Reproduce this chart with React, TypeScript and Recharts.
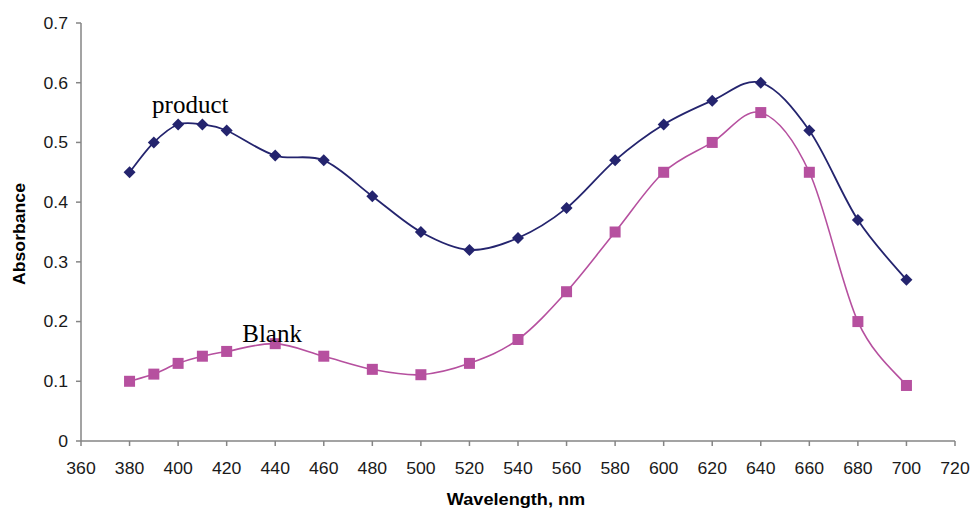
import React from 'react';
import { LineChart, Line, XAxis, YAxis, ReferenceDot, Label } from 'recharts';

const wavelengths = [380, 390, 400, 410, 420, 440, 460, 480, 500, 520, 540, 560, 580, 600, 620, 640, 660, 680, 700];
const productValues = [0.45, 0.5, 0.53, 0.53, 0.52, 0.478, 0.47, 0.41, 0.35, 0.32, 0.34, 0.39, 0.47, 0.53, 0.57, 0.6, 0.52, 0.37, 0.27];
const blankValues = [0.1, 0.112, 0.13, 0.142, 0.15, 0.163, 0.142, 0.12, 0.111, 0.13, 0.17, 0.25, 0.35, 0.45, 0.5, 0.55, 0.45, 0.2, 0.093];
const xTicks = [360, 380, 400, 420, 440, 460, 480, 500, 520, 540, 560, 580, 600, 620, 640, 660, 680, 700, 720];
const yTicks = [0, 0.1, 0.2, 0.3, 0.4, 0.5, 0.6, 0.7];

const productLabel = { x: 405, y: 0.549, text: 'product' };
const blankLabel = { x: 438.7, y: 0.166, text: 'Blank' };

const data = wavelengths.map((w, i) => ({ w, product: productValues[i], blank: blankValues[i] }));

const PRODUCT_COLOR = '#24246e';
const BLANK_COLOR = '#b6509f';
const AXIS_COLOR = '#858585';
const FONT = '"Liberation Sans", Arial, sans-serif';
const TICK_SIZE = 16.5;
const TICK_STRETCH = 1.07;

// Excel-like smoothed curve (Catmull-Rom style Bezier)
const excelCurve = (context: any) => {
  let pts: number[][] = [];
  return {
    areaStart() {},
    areaEnd() {},
    lineStart() {
      pts = [];
    },
    point(x: number, y: number) {
      pts.push([+x, +y]);
    },
    lineEnd() {
      if (!pts.length) return;
      context.moveTo(pts[0][0], pts[0][1]);
      for (let i = 0; i < pts.length - 1; i++) {
        const p0 = pts[i - 1] || pts[i];
        const p1 = pts[i];
        const p2 = pts[i + 1];
        const p3 = pts[i + 2] || pts[i + 1];
        const c1x = p1[0] + (p2[0] - p0[0]) / 6;
        const c1y = p1[1] + (p2[1] - p0[1]) / 6;
        const c2x = p2[0] - (p3[0] - p1[0]) / 6;
        const c2y = p2[1] - (p3[1] - p1[1]) / 6;
        context.bezierCurveTo(c1x, c1y, c2x, c2y, p2[0], p2[1]);
      }
    },
  };
};

const Diamond = (props: any) => {
  const { cx, cy } = props;
  if (cx == null || cy == null) return null;
  const s = 6;
  return <path d={`M${cx},${cy - s}L${cx + s},${cy}L${cx},${cy + s}L${cx - s},${cy}Z`} fill={PRODUCT_COLOR} stroke="none" />;
};

const Square = (props: any) => {
  const { cx, cy } = props;
  if (cx == null || cy == null) return null;
  const s = 5.5;
  return <rect x={cx - s} y={cy - s} width={2 * s} height={2 * s} fill={BLANK_COLOR} stroke="none" />;
};

const XTick = (props: any) => {
  const { x, y, payload } = props;
  return (
    <g transform={`translate(${x},${y})`}>
      <text x={0} y={0} dy="0.71em" textAnchor="middle" transform={`scale(${TICK_STRETCH},1)`} fontFamily={FONT} fontSize={TICK_SIZE} fill="#1a1a1a">
        {payload.value}
      </text>
    </g>
  );
};

const YTick = (props: any) => {
  const { x, y, payload } = props;
  return (
    <g transform={`translate(${x},${y})`}>
      <text x={0} y={0} dy="0.355em" textAnchor="end" transform={`scale(${TICK_STRETCH},1)`} fontFamily={FONT} fontSize={TICK_SIZE} fill="#1a1a1a">
        {payload.value}
      </text>
    </g>
  );
};

const annotationShape = (text: string) => (props: any) => (
  <text x={props.cx} y={props.cy} textAnchor="middle" fontFamily='"Liberation Serif", "Times New Roman", serif' fontSize={25} fill="#000">
    {text}
  </text>
);

export default function App() {
  return (
    <div style={{ position: 'absolute', left: 0, top: 0, background: '#fff' }}>
      <LineChart width={971} height={510} data={data} margin={{ top: 23, right: 16, left: 0, bottom: 0 }}>
        <XAxis
          dataKey="w"
          type="number"
          domain={[360, 720]}
          ticks={xTicks}
          interval={0}
          height={69}
          tickSize={5}
          tickMargin={16}
          stroke={AXIS_COLOR}
          strokeWidth={1.5}
          tick={<XTick />}
        >
          <Label
            content={() => (
              <g transform="translate(516,505)">
                <text x={0} y={0} textAnchor="middle" transform="scale(1.1,1)" fontFamily={FONT} fontWeight="bold" fontSize={16.5} fill="#000">
                  Wavelength, nm
                </text>
              </g>
            )}
          />
        </XAxis>
        <YAxis
          type="number"
          domain={[0, 0.7]}
          ticks={yTicks}
          interval={0}
          width={81}
          tickSize={5}
          tickMargin={8}
          stroke={AXIS_COLOR}
          strokeWidth={1.5}
          tick={<YTick />}
        >
          <Label
            content={() => (
              <g transform="translate(25,234) rotate(-90)">
                <text x={0} y={0} textAnchor="middle" transform="scale(1.07,1)" fontFamily={FONT} fontWeight="bold" fontSize={16.5} fill="#000">
                  Absorbance
                </text>
              </g>
            )}
          />
        </YAxis>
        <Line
          dataKey="product"
          type={excelCurve as any}
          stroke={PRODUCT_COLOR}
          strokeWidth={1.8}
          dot={<Diamond />}
          activeDot={false}
          isAnimationActive={false}
        />
        <Line
          dataKey="blank"
          type={excelCurve as any}
          stroke={BLANK_COLOR}
          strokeWidth={1.6}
          dot={<Square />}
          activeDot={false}
          isAnimationActive={false}
        />
        <ReferenceDot x={productLabel.x} y={productLabel.y} r={0} shape={annotationShape(productLabel.text)} />
        <ReferenceDot x={blankLabel.x} y={blankLabel.y} r={0} shape={annotationShape(blankLabel.text)} />
      </LineChart>
    </div>
  );
}
